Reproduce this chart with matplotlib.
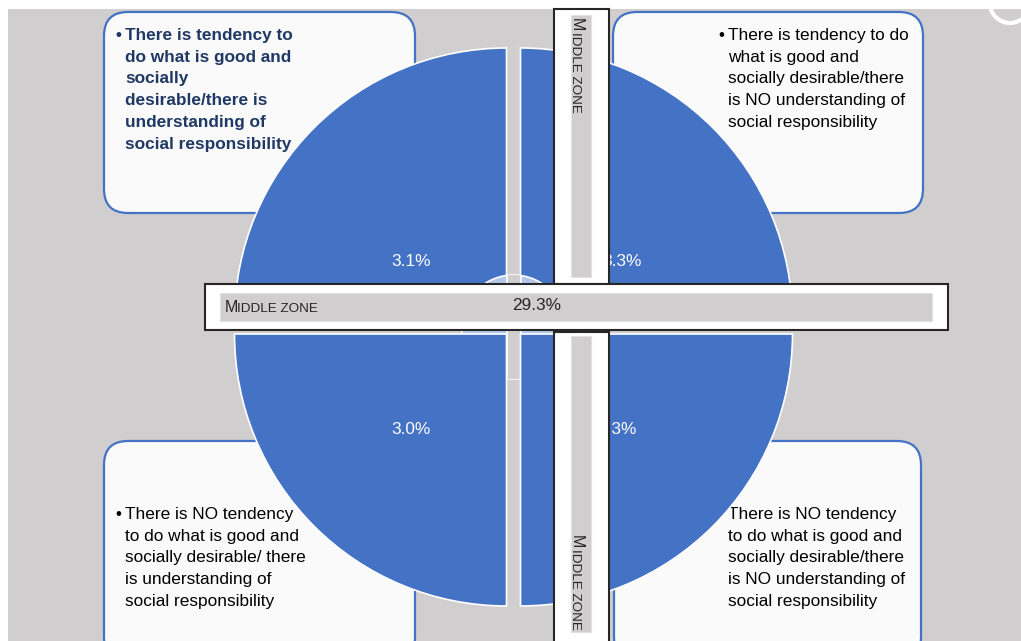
import numpy as np
import matplotlib.pyplot as plt
from matplotlib.patches import Rectangle, Circle, FancyBboxPatch, Arc

plt.rcParams['font.family'] = ['Liberation Sans', 'DejaVu Sans']

# four equal quadrants of the pie, with their shares
quadrant_sizes = [1, 1, 1, 1]
# order: upper-left, upper-right, lower-left, lower-right
quadrant_pct = [3.1, 3.3, 3.0, 3.3]
middle_pct = 29.3
middle_label = "MIDDLE ZONE"

box_texts = [
    ["There is tendency to", "do what is good and", "socially",
     "desirable/there is", "understanding of", "social responsibility"],
    ["There is tendency to do", "what is good and", "socially desirable/there",
     "is NO understanding of", "social responsibility"],
    ["There is NO tendency", "to do what is good and", "socially desirable/ there",
     "is understanding of", "social responsibility"],
    ["There is NO tendency", "to do what is good and", "socially desirable/there",
     "is NO understanding of", "social responsibility"],
]

blue = '#4472C4'
gray = '#D0CECE'
dark = '#262626'
navy = '#1F3864'

W, H = 1021, 641
fig = plt.figure(figsize=(W / 100, H / 100), dpi=100)
ax = fig.add_axes([0, 0, 1, 1])

cx, cy, r = 513.5, 327, 272
# pie's explode is an absolute offset here (data units), 7 px each way
gap = 7 * np.sqrt(2)

wedges, _ = ax.pie(quadrant_sizes, center=(cx, cy), radius=r, explode=[gap] * 4,
                   startangle=0, colors=[blue] * 4,
                   wedgeprops=dict(edgecolor='white', linewidth=1.2))
# y axis is flipped below, so data angles 0-180 are the lower half on screen
for w in wedges:
    mid = (w.theta1 + w.theta2) / 2
    w.set_zorder(5 if mid < 180 else 3)

ax.set_xlim(0, W)
ax.set_ylim(H, 0)
ax.set_aspect('auto')
ax.axis('off')

# background
ax.add_patch(Rectangle((8, 9), W, H, fc=gray, ec='none', zorder=0))
ax.add_patch(Arc((1010, 3), 40, 40, theta1=15, theta2=175, color='white', lw=3, zorder=0.5))

# rounded text boxes
boxes = [(104, 12, 311, 201), (613, 12, 310, 201), (104, 441, 311, 220), (614, 441, 307, 220)]
first_base = [40, 40, 519, 519]
text_x = [125, 728, 125, 728]
for i, (x0, y0, bw, bh) in enumerate(boxes):
    ax.add_patch(FancyBboxPatch((x0, y0), bw, bh, boxstyle='round,pad=0,rounding_size=24',
                                fc='#FAFAFA', ec=blue, lw=1.6, zorder=1))
    bold = i == 0
    col = navy if bold else 'black'
    wt = 'bold' if bold else 'normal'
    ax.text(text_x[i] - 10, first_base[i], '•', fontsize=12.4, color=col,
            fontweight=wt, va='baseline', zorder=2)
    for j, line in enumerate(box_texts[i]):
        ax.text(text_x[i], first_base[i] + j * 21.7, line, fontsize=12.4, color=col,
                fontweight=wt, va='baseline', zorder=2)

# central circle, gap strip through it
circ = Circle((cx, cy), 52, fc='#B4C7E7', ec='white', lw=1.2, zorder=4)
ax.add_patch(circ)
strip = Rectangle((cx - 7, cy - 60), 14, 120, fc=gray, ec='white', lw=1.2, zorder=4.5)
ax.add_patch(strip)
strip.set_clip_path(circ)

# percentage labels
label_pos = [(411, 262), (622, 262), (411, 430), (617, 430)]
for (lx, ly), p in zip(label_pos, quadrant_pct):
    ax.text(lx, ly, f"{p:.1f}%", color='white', fontsize=12.4, ha='center', va='center', zorder=6)

# middle zone bars
ax.add_patch(Rectangle((554, 9), 55, 275, fc='white', ec=dark, lw=1.5, zorder=9))
ax.add_patch(Rectangle((571, 15), 20, 262, fc=gray, ec='#E2E2E2', lw=0.8, zorder=9.5))
ax.add_patch(Rectangle((554, 332), 55, 330, fc='white', ec=dark, lw=1.5, zorder=9))
ax.add_patch(Rectangle((571, 336), 20, 296, fc=gray, ec='#E2E2E2', lw=0.8, zorder=9.5))
ax.add_patch(Rectangle((205, 284), 743, 46, fc='white', ec=dark, lw=1.5, zorder=10))
ax.add_patch(Rectangle((220, 293), 712, 28, fc=gray, ec='#E2E2E2', lw=0.8, zorder=10.5))

# small caps "Middle zone"
ax.text(225, 312, middle_label[0], fontsize=11.5, color=dark, va='baseline', zorder=11)
ax.text(237, 312, middle_label[1:], fontsize=9.7, color=dark, va='baseline', zorder=11)
for top in [18, 535]:
    ax.text(572, top, middle_label[0], fontsize=11.5, color=dark, rotation=-90,
            rotation_mode='anchor', ha='left', va='baseline', zorder=11)
    ax.text(572, top + 14, middle_label[1:], fontsize=9.7, color=dark, rotation=-90,
            rotation_mode='anchor', ha='left', va='baseline', zorder=11)

ax.text(537, 305, f"{middle_pct:.1f}%", fontsize=12.4, color=dark, ha='center', va='center', zorder=11)

fig.savefig('out.png', dpi=100, facecolor='white')
